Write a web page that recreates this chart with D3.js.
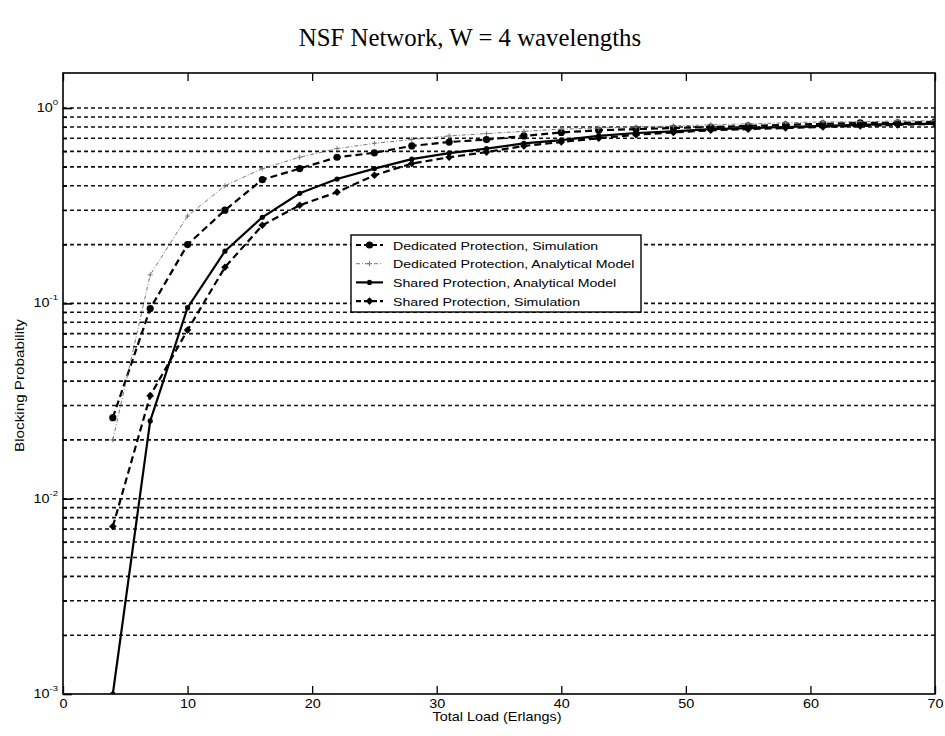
<!DOCTYPE html>
<html>
<head>
<meta charset="utf-8">
<script src="https://cdn.jsdelivr.net/npm/d3@7"></script>
<style>
  body { margin: 0; background: #fff; }
  svg { display: block; font-family: Arial, "Liberation Sans", sans-serif; }
</style>
</head>
<body>
<svg id="chart" width="945" height="736"></svg>
<script>
const titleText = "NSF Network, W = 4 wavelengths";
const xLabel = "Total Load (Erlangs)";
const yLabel = "Blocking Probability";

const loads = [4, 7, 10, 13, 16, 19, 22, 25, 28, 31, 34, 37, 40, 43, 46, 49, 52, 55, 58, 61, 64, 67, 70];

const dedicatedSim = [0.026, 0.094, 0.20, 0.30, 0.43, 0.49, 0.56, 0.59, 0.64, 0.67, 0.69, 0.72, 0.75, 0.77, 0.78, 0.79, 0.80, 0.81, 0.82, 0.83, 0.84, 0.84, 0.85];
const dedicatedAnalytical = [0.020, 0.14, 0.28, 0.40, 0.49, 0.56, 0.62, 0.66, 0.69, 0.72, 0.74, 0.76, 0.78, 0.79, 0.80, 0.81, 0.82, 0.83, 0.84, 0.85, 0.85, 0.86, 0.86];
const sharedAnalytical = [0.001, 0.025, 0.095, 0.185, 0.276, 0.366, 0.433, 0.49, 0.548, 0.588, 0.62, 0.66, 0.685, 0.72, 0.745, 0.76, 0.78, 0.79, 0.80, 0.81, 0.82, 0.83, 0.83];
const sharedSim = [0.0072, 0.0337, 0.073, 0.153, 0.251, 0.318, 0.371, 0.453, 0.52, 0.56, 0.595, 0.64, 0.67, 0.70, 0.73, 0.75, 0.77, 0.78, 0.79, 0.80, 0.81, 0.82, 0.83];

const seriesNames = [
  "Dedicated Protection, Simulation",
  "Dedicated Protection, Analytical Model",
  "Shared Protection, Analytical Model",
  "Shared Protection, Simulation"
];

const xTicks = [0, 10, 20, 30, 40, 50, 60, 70];
const yMajorExps = [0, -1, -2, -3];

const svg = d3.select("#chart");
const pL = 63, pR = 935, pT = 73, pB = 694;
const SX = 1.2; // horizontal stretch of sans text in the scanned original

const x = d3.scaleLinear().domain([0, 70]).range([pL, pR]);
const yTopVal = Math.pow(10, 35 / 195);
const y = d3.scaleLog().domain([0.001, yTopVal]).range([pB, pT]);

// grid lines (1..9 x 10^k)
const gridVals = [];
for (let k = -3; k <= -1; k++) {
  for (let m = 1; m <= 9; m++) {
    const v = m * Math.pow(10, k);
    if (v > 0.001 * 1.0001) gridVals.push(v);
  }
}
gridVals.push(1);

const clipId = "plotclip";
svg.append("defs").append("clipPath").attr("id", clipId)
  .append("rect").attr("x", pL).attr("y", pT).attr("width", pR - pL).attr("height", pB - pT);

svg.append("g").selectAll("line").data(gridVals).join("line")
  .attr("x1", pL).attr("x2", pR)
  .attr("y1", d => y(d)).attr("y2", d => y(d))
  .attr("stroke", "#111").attr("stroke-width", 1.6)
  .attr("stroke-dasharray", "4,3");

// axes box
svg.append("rect").attr("x", pL).attr("y", pT)
  .attr("width", pR - pL).attr("height", pB - pT)
  .attr("fill", "none").attr("stroke", "#000").attr("stroke-width", 1.6);

// x ticks bottom/top (inward)
const xAxisB = d3.axisBottom(x).tickValues(xTicks).tickSize(-8).tickPadding(5).tickFormat(d3.format("d"));
const gxb = svg.append("g").attr("transform", `translate(0,${pB})`).call(xAxisB);
gxb.select(".domain").remove();
gxb.selectAll("line").attr("stroke", "#000").attr("stroke-width", 1.3);
gxb.selectAll("text").attr("fill", "#000").attr("transform", `scale(${SX},1)`)
  .style("font-size", "12px").style("font-family", "Arial, 'Liberation Sans', sans-serif");

const xAxisT = d3.axisTop(x).tickValues(xTicks).tickSize(-8).tickFormat("");
const gxt = svg.append("g").attr("transform", `translate(0,${pT})`).call(xAxisT);
gxt.select(".domain").remove();
gxt.selectAll("line").attr("stroke", "#000").attr("stroke-width", 1.3);

// y ticks (left, inward)
const yMinor = gridVals.filter(v => Math.abs(Math.log10(v) - Math.round(Math.log10(v))) > 1e-6);
const yAxisMinor = d3.axisLeft(y).tickValues(yMinor).tickSize(-4).tickFormat("");
const gym = svg.append("g").attr("transform", `translate(${pL},0)`).call(yAxisMinor);
gym.select(".domain").remove();
gym.selectAll("line").attr("stroke", "#000").attr("stroke-width", 1.2);

const yAxisMajor = d3.axisLeft(y).tickValues(yMajorExps.map(e => Math.pow(10, e))).tickSize(-9).tickFormat("");
const gyM = svg.append("g").attr("transform", `translate(${pL},0)`).call(yAxisMajor);
gyM.select(".domain").remove();
gyM.selectAll("line").attr("stroke", "#000").attr("stroke-width", 1.6);

// y tick labels with superscripts
const ylab = svg.append("g");
yMajorExps.forEach(e => {
  const t = ylab.append("g")
    .attr("transform", `translate(${pL - 5},${y(Math.pow(10, e)) + 4}) scale(${SX},1)`)
    .append("text").attr("text-anchor", "end").style("font-size", "12px");
  t.append("tspan").text("10");
  t.append("tspan").attr("dy", -7).style("font-size", "8px").text(String(e));
});

// title and labels
svg.append("text").attr("x", 470).attr("y", 46).attr("text-anchor", "middle")
  .style("font-family", "'Liberation Serif', 'Times New Roman', serif").style("font-size", "24.8px")
  .text(titleText);
svg.append("g").attr("transform", `translate(497,721) scale(${SX},1)`)
  .append("text").attr("text-anchor", "middle").style("font-size", "12px").text(xLabel);
svg.append("g").attr("transform", `translate(24,${(pT + pB) / 2 + 2}) rotate(-90) scale(1.27,1)`)
  .append("text").attr("text-anchor", "middle").style("font-size", "12px").text(yLabel);

// series
const styles = [
  { data: dedicatedSim, color: "#000", width: 2.2, dash: "7,4", marker: "circle", msize: 3.6 },
  { data: dedicatedAnalytical, color: "#777", width: 1, dash: "4,2,1,2", marker: "plus", msize: 2.5 },
  { data: sharedAnalytical, color: "#000", width: 2.2, dash: null, marker: "dot", msize: 2.6 },
  { data: sharedSim, color: "#000", width: 2.2, dash: "7,4", marker: "diamond", msize: 3.8 }
];

const line = d3.line().x(d => x(d[0])).y(d => y(d[1]));
const plot = svg.append("g").attr("clip-path", `url(#${clipId})`);

function drawMarker(g, px, py, st) {
  if (st.marker === "circle" || st.marker === "dot") {
    g.append("circle").attr("cx", px).attr("cy", py).attr("r", st.msize).attr("fill", st.color);
  } else if (st.marker === "diamond") {
    const s = st.msize;
    g.append("path").attr("d", `M${px},${py - s}L${px + s},${py}L${px},${py + s}L${px - s},${py}Z`).attr("fill", st.color);
  } else if (st.marker === "plus") {
    const s = st.msize;
    g.append("path").attr("d", `M${px - s},${py}H${px + s}M${px},${py - s}V${py + s}`)
      .attr("stroke", st.color).attr("stroke-width", 1);
  }
}

styles.forEach(st => {
  const pts = loads.map((l, i) => [l, st.data[i]]);
  const p = plot.append("path").datum(pts).attr("d", line)
    .attr("fill", "none").attr("stroke", st.color).attr("stroke-width", st.width);
  if (st.dash) p.attr("stroke-dasharray", st.dash);
  const mg = plot.append("g");
  pts.forEach(d => drawMarker(mg, x(d[0]), y(d[1]), st));
});

// legend
const lgX = 351, lgY = 235, lgW = 290, lgH = 77;
const lg = svg.append("g");
lg.append("rect").attr("x", lgX).attr("y", lgY).attr("width", lgW).attr("height", lgH)
  .attr("fill", "#fff").attr("stroke", "#000").attr("stroke-width", 1.4);
seriesNames.forEach((name, i) => {
  const st = styles[i];
  const ry = lgY + 10 + i * 18.7;
  const l = lg.append("line").attr("x1", lgX + 5).attr("x2", lgX + 32).attr("y1", ry).attr("y2", ry)
    .attr("stroke", st.color).attr("stroke-width", st.width);
  if (st.dash) l.attr("stroke-dasharray", i === 1 ? "4,2,1,2" : "5,3");
  drawMarker(lg, lgX + 18.5, ry, st);
  lg.append("g").attr("transform", `translate(${lgX + 42},${ry + 4.5}) scale(${SX},1)`)
    .append("text").style("font-size", "11.8px").text(name);
});
</script>
</body>
</html>
